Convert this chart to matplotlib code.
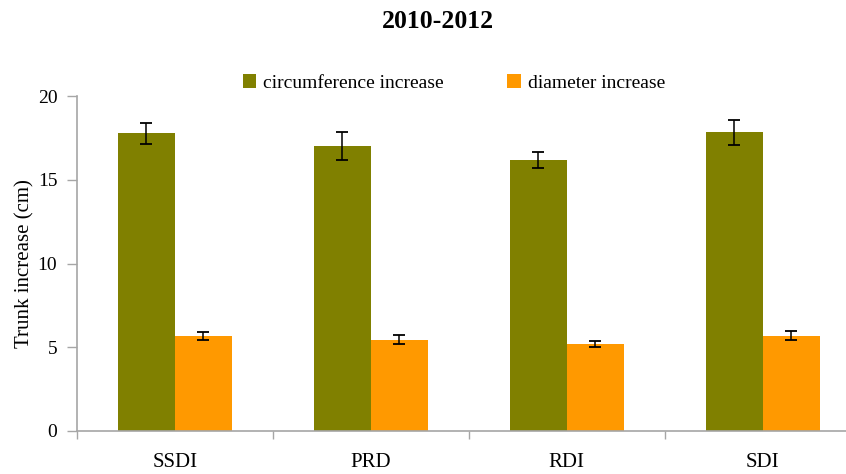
import matplotlib
matplotlib.use("Agg")
import matplotlib.pyplot as plt
import numpy as np
from matplotlib.patches import Patch

categories = ["SSDI", "PRD", "RDI", "SDI"]
circumference = [17.8, 17.05, 16.2, 17.85]
circumference_err = [0.63, 0.84, 0.48, 0.75]
diameter = [5.68, 5.45, 5.2, 5.68]
diameter_err = [0.25, 0.26, 0.18, 0.27]
y_ticks = [0, 5, 10, 15, 20]

olive = "#808000"
orange = "#FF9900"
axis_grey = "#A6A6A6"

plt.rcParams["font.family"] = ["Liberation Serif", "DejaVu Serif"]

fig = plt.figure(figsize=(8.46, 4.74), dpi=100)
ax = fig.add_axes([0.0907, 0.0913, 0.9267, 0.7053])

x = np.arange(len(categories))
w = 0.29
err_kw = dict(ecolor="black", elinewidth=1.1, capsize=4.5, capthick=1.3)
ax.bar(x - w / 2, circumference, w, color=olive, yerr=circumference_err,
       error_kw=err_kw, label="circumference increase")
ax.bar(x + w / 2, diameter, w, color=orange, yerr=diameter_err,
       error_kw=err_kw, label="diameter increase")

ax.set_xlim(-0.5, len(categories) - 0.5)
ax.set_ylim(0, 20)
ax.set_yticks(y_ticks)
ax.tick_params(axis="y", direction="out", length=7, width=1, color=axis_grey,
               labelsize=14, pad=7)

# category boundaries get tick marks, category centres carry the labels
ax.set_xticks(np.arange(-0.5, len(categories)), minor=False)
ax.set_xticklabels([])
ax.set_xticks(x, minor=True)
ax.set_xticklabels(categories, minor=True, fontsize=15)
ax.tick_params(axis="x", which="major", direction="out", length=6, width=1,
               color=axis_grey)
ax.tick_params(axis="x", which="minor", length=0, pad=16)

for side in ("top", "right"):
    ax.spines[side].set_visible(False)
for side in ("left", "bottom"):
    ax.spines[side].set_color(axis_grey)
    ax.spines[side].set_linewidth(1.2)

ax.set_ylabel("Trunk increase (cm)", fontsize=15, labelpad=2)

fig.text(438 / 846, 1 - 22 / 474, "2010-2012", ha="center", va="center",
         fontsize=18.5, fontweight="bold")

handles = [Patch(facecolor=olive, label="circumference increase"),
           Patch(facecolor=orange, label="diameter increase")]
fig.legend(handles=handles, loc="center", bbox_to_anchor=(454 / 846, 1 - 83 / 474),
           ncol=2, frameon=False, fontsize=14, handlelength=0.7, handleheight=0.7,
           handletextpad=0.35, columnspacing=3.27)

fig.savefig("out.png", dpi=100)
